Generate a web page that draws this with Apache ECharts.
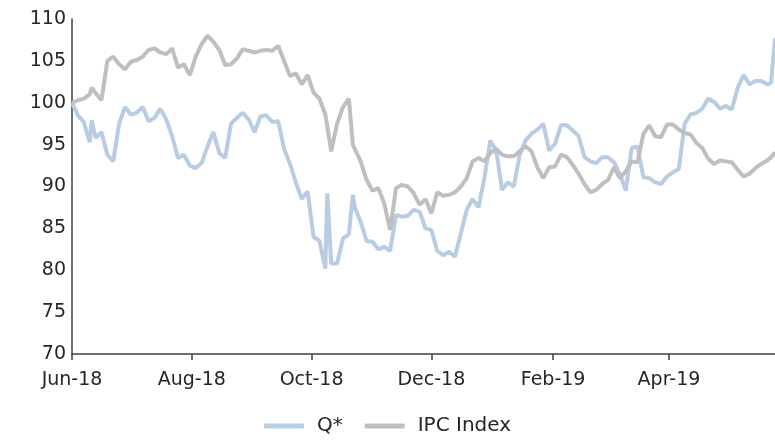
<!DOCTYPE html>
<html>
<head>
<meta charset="utf-8">
<script src="https://cdn.jsdelivr.net/npm/echarts@6/dist/echarts.min.js"></script>
<style>
  html, body { margin: 0; padding: 0; background: #fff; }
  #chart { width: 775px; height: 441px; }
</style>
</head>
<body>
<div id="chart"></div>
<script>
const dates = [
  '2018-06-01', '2018-06-04', '2018-06-07', '2018-06-10', '2018-06-11', '2018-06-13', '2018-06-16', '2018-06-19', '2018-06-22', '2018-06-25', '2018-06-28',
  '2018-07-01', '2018-07-04', '2018-07-07', '2018-07-10', '2018-07-13', '2018-07-16', '2018-07-19', '2018-07-22', '2018-07-25', '2018-07-28', '2018-07-31',
  '2018-08-03', '2018-08-06', '2018-08-09', '2018-08-12', '2018-08-15', '2018-08-18', '2018-08-21', '2018-08-24', '2018-08-27', '2018-08-30',
  '2018-09-02', '2018-09-05', '2018-09-08', '2018-09-11', '2018-09-14', '2018-09-17', '2018-09-20', '2018-09-23', '2018-09-26', '2018-09-29',
  '2018-10-02', '2018-10-05', '2018-10-08', '2018-10-09', '2018-10-11', '2018-10-14', '2018-10-17', '2018-10-20', '2018-10-22', '2018-10-23', '2018-10-26', '2018-10-29',
  '2018-11-01', '2018-11-04', '2018-11-07', '2018-11-10', '2018-11-13', '2018-11-16', '2018-11-19', '2018-11-22', '2018-11-25', '2018-11-28',
  '2018-12-01', '2018-12-04', '2018-12-07', '2018-12-10', '2018-12-13', '2018-12-16', '2018-12-19', '2018-12-22', '2018-12-25', '2018-12-28', '2018-12-31',
  '2019-01-03', '2019-01-06', '2019-01-09', '2019-01-12', '2019-01-15', '2019-01-18', '2019-01-21', '2019-01-24', '2019-01-27', '2019-01-30',
  '2019-02-02', '2019-02-05', '2019-02-08', '2019-02-11', '2019-02-14', '2019-02-17', '2019-02-20', '2019-02-23', '2019-02-26',
  '2019-03-01', '2019-03-04', '2019-03-07', '2019-03-10', '2019-03-13', '2019-03-16', '2019-03-19', '2019-03-22', '2019-03-25', '2019-03-28', '2019-03-31',
  '2019-04-03', '2019-04-06', '2019-04-09', '2019-04-12', '2019-04-15', '2019-04-18', '2019-04-21', '2019-04-24', '2019-04-27', '2019-04-30',
  '2019-05-03', '2019-05-06', '2019-05-09', '2019-05-12', '2019-05-15', '2019-05-18', '2019-05-21', '2019-05-23', '2019-05-25'
];

const qStar = [
  100, 98.5, 97.7, 95.3, 97.9, 95.8, 96.5, 93.8, 93, 97.5, 99.5,
  98.6, 98.8, 99.5, 97.8, 98.2, 99.3, 98, 96, 93.4, 93.8, 92.5,
  92.2, 92.8, 94.8, 96.5, 94, 93.4, 97.5, 98.2, 98.8, 98,
  96.5, 98.4, 98.5, 97.7, 97.8, 94.5, 92.7, 90.5, 88.5, 89.4,
  84, 83.5, 80.2, 89.2, 80.8, 80.8, 83.8, 84.3, 89, 87.5, 85.8, 83.5,
  83.4, 82.5, 82.8, 82.3, 86.6, 86.4, 86.5, 87.2, 87, 85,
  84.8, 82.3, 81.8, 82.2, 81.6, 84.4, 87.2, 88.5, 87.5, 91, 95.5,
  94.3, 89.6, 90.5, 90, 93.8, 95.5, 96.3, 96.8, 97.5, 94.3,
  95.1, 97.3, 97.3, 96.7, 96, 93.5, 93, 92.8, 93.5,
  93.5, 92.9, 91.5, 89.5, 94.6, 94.8, 91.1, 91, 90.5, 90.3, 91.2,
  91.7, 92.1, 97.5, 98.6, 98.8, 99.3, 100.5, 100.1, 99.3, 99.6,
  99.2, 101.8, 103.3, 102.2, 102.6, 102.6, 102.2, 102.4, 107.7
];

const ipcIndex = [
  100, 100.3, 100.5, 101, 101.8, 101.2, 100.3, 105, 105.5, 104.6, 104,
  104.9, 105.1, 105.5, 106.3, 106.5, 106, 105.8, 106.5, 104.2, 104.6, 103.3,
  105.5, 107, 108, 107.3, 106.3, 104.5, 104.6, 105.3, 106.4, 106.2,
  106, 106.2, 106.3, 106.2, 106.8, 105, 103.2, 103.5, 102.2, 103.3,
  101.2, 100.5, 98.6, 97.2, 94.2, 97.5, 99.5, 100.5, 95, 94.5, 93, 90.8,
  89.5, 89.8, 88, 84.8, 89.8, 90.2, 90, 89.2, 87.8, 88.5,
  86.8, 89.3, 88.9, 89, 89.3, 90, 91, 93, 93.4, 93, 94,
  94.5, 93.8, 93.6, 93.6, 94.2, 94.8, 94.2, 92.3, 91, 92.3,
  92.4, 93.8, 93.5, 92.6, 91.5, 90.3, 89.3, 89.6, 90.3,
  90.8, 92.3, 91, 91.8, 93, 92.9, 96.3, 97.3, 96, 95.9, 97.4,
  97.4, 96.8, 96.4, 96.2, 95.2, 94.6, 93.3, 92.7, 93.1, 93,
  92.9, 92, 91.2, 91.5, 92.2, 92.7, 93.1, 93.5, 94.1
];

const tickDates = ['2018-06-01', '2018-08-01', '2018-10-01', '2018-12-01', '2019-02-01', '2019-04-01'];
const monthNames = ['Jan', 'Feb', 'Mar', 'Apr', 'May', 'Jun', 'Jul', 'Aug', 'Sep', 'Oct', 'Nov', 'Dec'];

const toTime = s => Date.parse(s + 'T00:00:00Z');
const tickTimes = tickDates.map(toTime);

const chart = echarts.init(document.getElementById('chart'));
const font = 'DejaVu Sans';

chart.setOption({
  animation: false,
  grid: { left: 72, right: 0, top: 19, bottom: 87 },
  legend: {
    bottom: 0,
    left: 'center',
    icon: 'roundRect',
    itemWidth: 40,
    itemHeight: 5,
    itemGap: 22,
    textStyle: { fontFamily: font, fontSize: 20, color: '#262626', padding: [0, 0, 0, 8] },
    data: ['Q*', 'IPC Index']
  },
  xAxis: {
    type: 'value',
    min: toTime(dates[0]),
    max: toTime(dates[dates.length - 1]),
    axisLine: { lineStyle: { color: '#404040', width: 1.5 } },
    axisTick: {
      show: true,
      length: 6,
      customValues: tickTimes,
      lineStyle: { color: '#404040', width: 1.5 }
    },
    axisLabel: {
      customValues: tickTimes,
      fontFamily: font,
      fontSize: 19,
      color: '#262626',
      margin: 17,
      formatter: function (v) {
        const d = new Date(v);
        return monthNames[d.getUTCMonth()] + '-' + String(d.getUTCFullYear()).slice(2);
      }
    },
    splitLine: { show: false }
  },
  yAxis: {
    type: 'value',
    min: 70,
    max: 110,
    interval: 5,
    axisLine: { show: true, lineStyle: { color: '#404040', width: 1.5 } },
    axisTick: { show: false },
    axisLabel: { fontFamily: font, fontSize: 19, color: '#262626', margin: 6 },
    splitLine: { show: false }
  },
  series: [
    {
      name: 'Q*',
      type: 'line',
      showSymbol: false,
      data: dates.map((d, i) => [toTime(d), qStar[i]]),
      lineStyle: { color: '#b8cce4', width: 4 },
      itemStyle: { color: '#b8cce4' }
    },
    {
      name: 'IPC Index',
      type: 'line',
      showSymbol: false,
      data: dates.map((d, i) => [toTime(d), ipcIndex[i]]),
      lineStyle: { color: '#bfbfbf', width: 4 },
      itemStyle: { color: '#bfbfbf' }
    }
  ]
});
</script>
</body>
</html>
